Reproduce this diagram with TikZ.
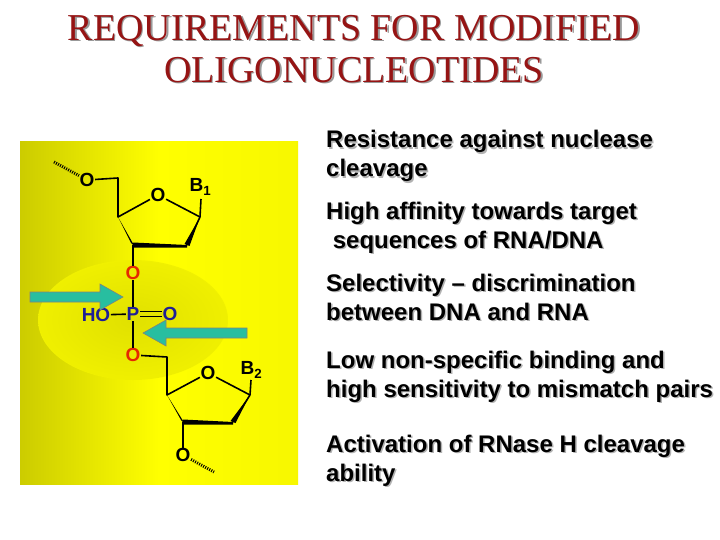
\documentclass[tikz,border=0pt]{standalone}
\usepackage{fontspec}
\setmainfont{Liberation Sans}
\newfontfamily\serifT{Liberation Serif}
\definecolor{ttl}{RGB}{150,20,20}
\definecolor{ared}{RGB}{230,40,0}
\definecolor{pblue}{RGB}{30,30,150}
\definecolor{teal}{RGB}{40,190,160}
\definecolor{ybg}{RGB}{255,255,0}
\begin{document}
\begin{tikzpicture}[x=1pt,y=-1pt,
  bond/.style={line width=1.6pt,line join=round},
  atom/.style={inner sep=0.5pt,font=\bfseries\fontsize{19}{19}\selectfont},
  item/.style={anchor=base west,align=left,font=\bfseries\fontsize{24}{29}\selectfont,text=black},
  arr/.style={fill=teal,draw=black!50,line width=0.6pt}]
\useasboundingbox (0,0) rectangle (720,540);
\fill[white] (0,0) rectangle (720,540);
% background
\shade[left color=ybg!80!black,right color=ybg!97!black,middle color=ybg] (20,142) rectangle (298,484);
\shade[inner color=ybg!88!black,outer color=ybg!94!black] (133,320) ellipse (95 and 60);
% title
\node[font=\serifT\fontsize{38}{42}\selectfont,text=black!40,align=center] at (355.5,50.5) {REQUIREMENTS FOR MODIFIED\\OLIGONUCLEOTIDES};
\node[font=\serifT\fontsize{38}{42}\selectfont,text=ttl,align=center] (title) at (354,49) {REQUIREMENTS FOR MODIFIED\\OLIGONUCLEOTIDES};
% atoms
\node[atom] (o5a) at (87,180) {O};
\node[atom] (ora) at (158,195) {O};
\node[atom,anchor=west] (b1) at (189,187) {B\textsubscript{1}};
\node[atom,text=ared] (o3a) at (133,273) {O};
\node[atom,text=pblue] (p) at (133,314) {P};
\node[atom,text=pblue] (ho) at (96,315) {HO};
\node[atom,text=pblue] (po) at (170,314) {O};
\node[atom,text=ared] (o5b) at (133,355) {O};
\node[atom] (orb) at (208,373) {O};
\node[atom,anchor=west] (b2) at (240,370) {B\textsubscript{2}};
\node[atom] (o3b) at (183,455) {O};
\coordinate (ha) at (54,162);
\coordinate (hb) at (214,472);
\coordinate (c5a) at (118,178);
\coordinate (c4a) at (118,217);
\coordinate (c1a) at (200,217);
\coordinate (c2a) at (187,245);
\coordinate (c3a) at (133,245);
\coordinate (c5b) at (167,357);
\coordinate (c4b) at (167,395);
\coordinate (c1b) at (250,395);
\coordinate (c2b) at (233,422);
\coordinate (c3b) at (183,422);
% bonds
\draw[line width=3pt,dash pattern=on 1pt off 1.3pt] (ha) -- (o5a);
\draw[line width=3pt,dash pattern=on 1pt off 1.3pt] (o3b) -- (hb);
\draw[bond] (o5a) -- (c5a) -- (c4a) -- (ora) -- (c1a) -- (c2a);
\draw[bond] (c1a) -- (201,199);
\fill (118,217) -- (131,243) -- (135,247) -- cycle;
\fill (133,242.5) -- (c2a) -- (187,247.5) -- (133,247.5) -- cycle;
\fill (c1a) -- (184.5,244) -- (189.5,246) -- cycle;
\draw[bond] (c3a) -- (o3a);
\draw[bond] (o3a) -- (p);
\draw[bond] (ho) -- (p);
\draw[bond] ([yshift=-2.5pt]p.east) -- ([yshift=-2.5pt]po.west);
\draw[bond] ([yshift=2.5pt]p.east) -- ([yshift=2.5pt]po.west);
\draw[bond] (p) -- (o5b);
\draw[bond] (o5b) -- (c5b) -- (c4b) -- (orb) -- (c1b) -- (c2b);
\draw[bond] (c1b) -- (251,380);
\fill (c4b) -- (181,420) -- (185,424) -- cycle;
\fill (183,419.5) -- (c2b) -- (233,424.5) -- (183,424.5) -- cycle;
\fill (c1b) -- (230.5,421) -- (235.5,423) -- cycle;
\draw[bond] (c3b) -- (o3b);
% arrows
\coordinate (a1) at (123,297);
\coordinate (a2) at (143,333);
\draw[arr] (30,292) -- (100,292) -- (100,284) -- (a1) -- (100,310) -- (100,302) -- (30,302) -- cycle;
\draw[arr] (247,328) -- (166,328) -- (166,320) -- (a2) -- (166,346) -- (166,338) -- (247,338) -- cycle;
% text
\foreach \t/\y in {{Resistance against nuclease\\cleavage}/177,{High affinity towards target\\\ sequences of RNA/DNA}/248,{Selectivity -- discrimination\\between DNA and RNA}/320,{Low non-specific binding and\\high sensitivity to mismatch pairs}/397,{Activation of RNase H cleavage\\ability}/481}{
  \node[item,text=black!30,inner sep=0pt] at (327.5,\y+1.5) {\t};
  \node[item,inner sep=0pt] at (326,\y) {\t};
}
\end{tikzpicture}
\end{document}
